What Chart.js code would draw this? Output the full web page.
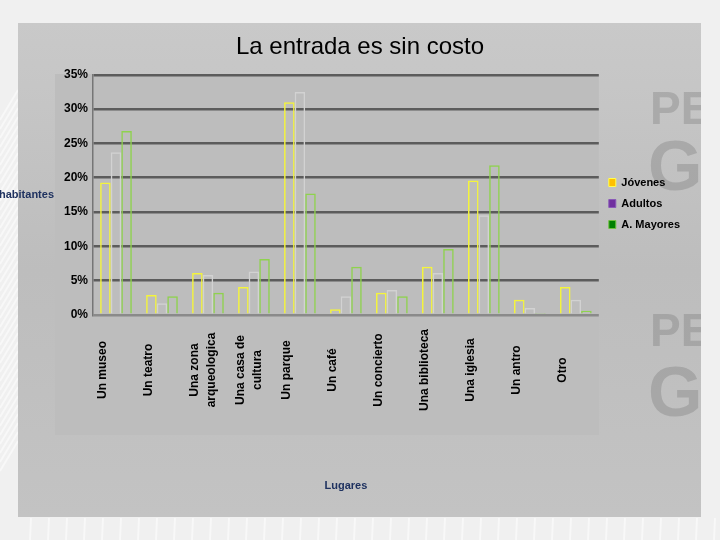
<!DOCTYPE html>
<html>
<head>
<meta charset="utf-8">
<script src="https://cdn.jsdelivr.net/npm/chart.js@4"></script>
<style>
  html, body { margin: 0; padding: 0; background: #f3f3f3; }
  #wrap { width: 720px; height: 540px; position: relative; }
</style>
</head>
<body>
<div id="wrap"><canvas id="chart" width="720" height="540"></canvas></div>
<script>
// Data (percent of habitantes)
const categories = ['Un museo', 'Un teatro', ['Una zona', 'arqueologica'], ['Una casa de', 'cultura'],
    'Un parque', 'Un café', 'Un concierto', 'Una biblioteca', 'Una iglesia', 'Un antro', 'Otro'];
const seriesNames = ['Jóvenes', 'Adultos', 'A. Mayores'];
const jovenes = [19.3, 2.9, 6.1, 4.05, 31.0, 0.8, 3.2, 7.0, 19.6, 2.2, 4.05];
const adultos = [23.7, 1.7, 5.8, 6.3, 32.5, 2.7, 3.6, 6.1, 14.5, 1.0, 2.2];
const mayores = [26.8, 2.7, 3.2, 8.15, 17.7, 7.0, 2.7, 9.6, 21.8, 0.25, 0.6];

const outlineColors = ['#f4f43c', '#d2d2d2', '#8fd24e'];
const legendFill = ['#ffc000', '#7030a0', '#008000'];
const legendStroke = ['#ffff50', '#8a5ab8', '#70c040'];

const FONT = "'Liberation Sans', Arial, sans-serif";
Chart.defaults.font.family = FONT;
Chart.defaults.color = '#000';

// page, stone panel, watermark and the grey chart area behind the plot
const backdrop = {
    id: 'backdrop',
    beforeDraw(chart) {
        const c = chart.ctx;
        c.save();
        c.fillStyle = '#f0f0f0';
        c.fillRect(0, 0, 720, 540);
        c.strokeStyle = 'rgba(255,255,255,0.5)';
        c.lineWidth = 2;
        for (let i = 0; i < 40; i++) {
            c.beginPath(); c.moveTo(0, 120 + i * 9); c.lineTo(18, 90 + i * 9); c.stroke();
            c.beginPath(); c.moveTo(30 + i * 18, 540); c.lineTo(31 + i * 18, 518); c.stroke();
        }
        const g = c.createLinearGradient(0, 23, 0, 517);
        g.addColorStop(0, '#c9c9c9');
        g.addColorStop(0.5, '#bdbdbd');
        g.addColorStop(1, '#c3c3c3');
        c.fillStyle = g;
        c.fillRect(18, 23, 683, 494);
        c.beginPath(); c.rect(18, 23, 683, 494); c.clip();
        c.fillStyle = 'rgba(110,110,110,0.3)';
        c.font = "bold 46px " + FONT;
        c.fillText('PE', 650, 124);
        c.fillText('PE', 650, 346);
        c.font = "bold 70px " + FONT;
        c.fillText('GI', 648, 190);
        c.fillText('GI', 648, 416);
        c.restore();
        c.fillStyle = '#bdbdbd';
        c.fillRect(55, 74, chart.chartArea.right - 55, 361);
    },
    afterDraw(chart) {
        const c = chart.ctx;
        const x = chart.scales.x;
        c.save();
        c.fillStyle = '#000';
        c.font = "bold 12px " + FONT;
        c.textAlign = 'center';
        c.textBaseline = 'middle';
        categories.forEach((lab, i) => {
            const lines = Array.isArray(lab) ? lab : [lab];
            const px = x.getPixelForValue(i);
            lines.forEach((ln, j) => {
                c.save();
                c.translate(px - 13 + j * 17, 370);
                c.rotate(-Math.PI / 2);
                c.fillText(ln, 0, 0);
                c.restore();
            });
        });
        // horizontal y-axis title, cut at the left edge like the slide
        c.fillStyle = '#1f3260';
        c.font = "bold 11px " + FONT;
        c.textAlign = 'right';
        c.fillText('habitantes', 54, (chart.chartArea.top + chart.chartArea.bottom) / 2);
        c.restore();
    }
};

function makeSet(label, data, idx) {
    return {
        label: label,
        data: data,
        backgroundColor: 'rgba(0,0,0,0)',
        borderColor: outlineColors[idx],
        borderWidth: 1.5,
        categoryPercentage: 0.69,
        barPercentage: 1.0
    };
}

new Chart(document.getElementById('chart'), {
    type: 'bar',
    data: {
        labels: categories,
        datasets: [
            makeSet(seriesNames[0], jovenes, 0),
            makeSet(seriesNames[1], adultos, 1),
            makeSet(seriesNames[2], mayores, 2)
        ]
    },
    options: {
        responsive: false,
        animation: false,
        layout: { padding: { left: 30, right: 30, top: 20, bottom: 47 } },
        plugins: {
            title: {
                display: true,
                text: 'La entrada es sin costo',
                color: '#000',
                font: { size: 24, weight: 'normal' },
                padding: { top: 13, bottom: 13 }
            },
            legend: {
                position: 'right',
                align: 'start',
                title: { display: true, text: ' ', font: { size: 10 }, padding: { top: 135, bottom: 0 } },
                labels: {
                    boxWidth: 7,
                    boxHeight: 8,
                    padding: 10,
                    color: '#000',
                    font: { size: 11, weight: 'bold' },
                    generateLabels(chart) {
                        return Chart.defaults.plugins.legend.labels.generateLabels(chart).map((l, i) => ({
                            ...l, fillStyle: legendFill[i], strokeStyle: legendStroke[i], lineWidth: 1
                        }));
                    }
                }
            },
            tooltip: { enabled: false }
        },
        scales: {
            x: {
                ticks: { display: false },
                grid: { display: false, drawTicks: false },
                border: { display: false },
                title: {
                    display: true,
                    text: 'Lugares',
                    color: '#1f3260',
                    font: { size: 11, weight: 'bold' },
                    padding: { top: 165, bottom: 0 }
                }
            },
            y: {
                min: 0,
                max: 35,
                afterFit(scale) { scale.width = 63; },
                ticks: {
                    stepSize: 5,
                    padding: 5,
                    color: '#000',
                    font: { size: 12, weight: 'bold' },
                    callback: v => v + '%'
                },
                grid: {
                    drawTicks: false,
                    color: ctx => ctx.tick.value === 0 ? '#8a8a8a' : '#5c5c5c',
                    lineWidth: 2.5
                },
                border: { display: true, color: '#767676', width: 1.5 }
            }
        }
    },
    plugins: [backdrop]
});
</script>
</body>
</html>
